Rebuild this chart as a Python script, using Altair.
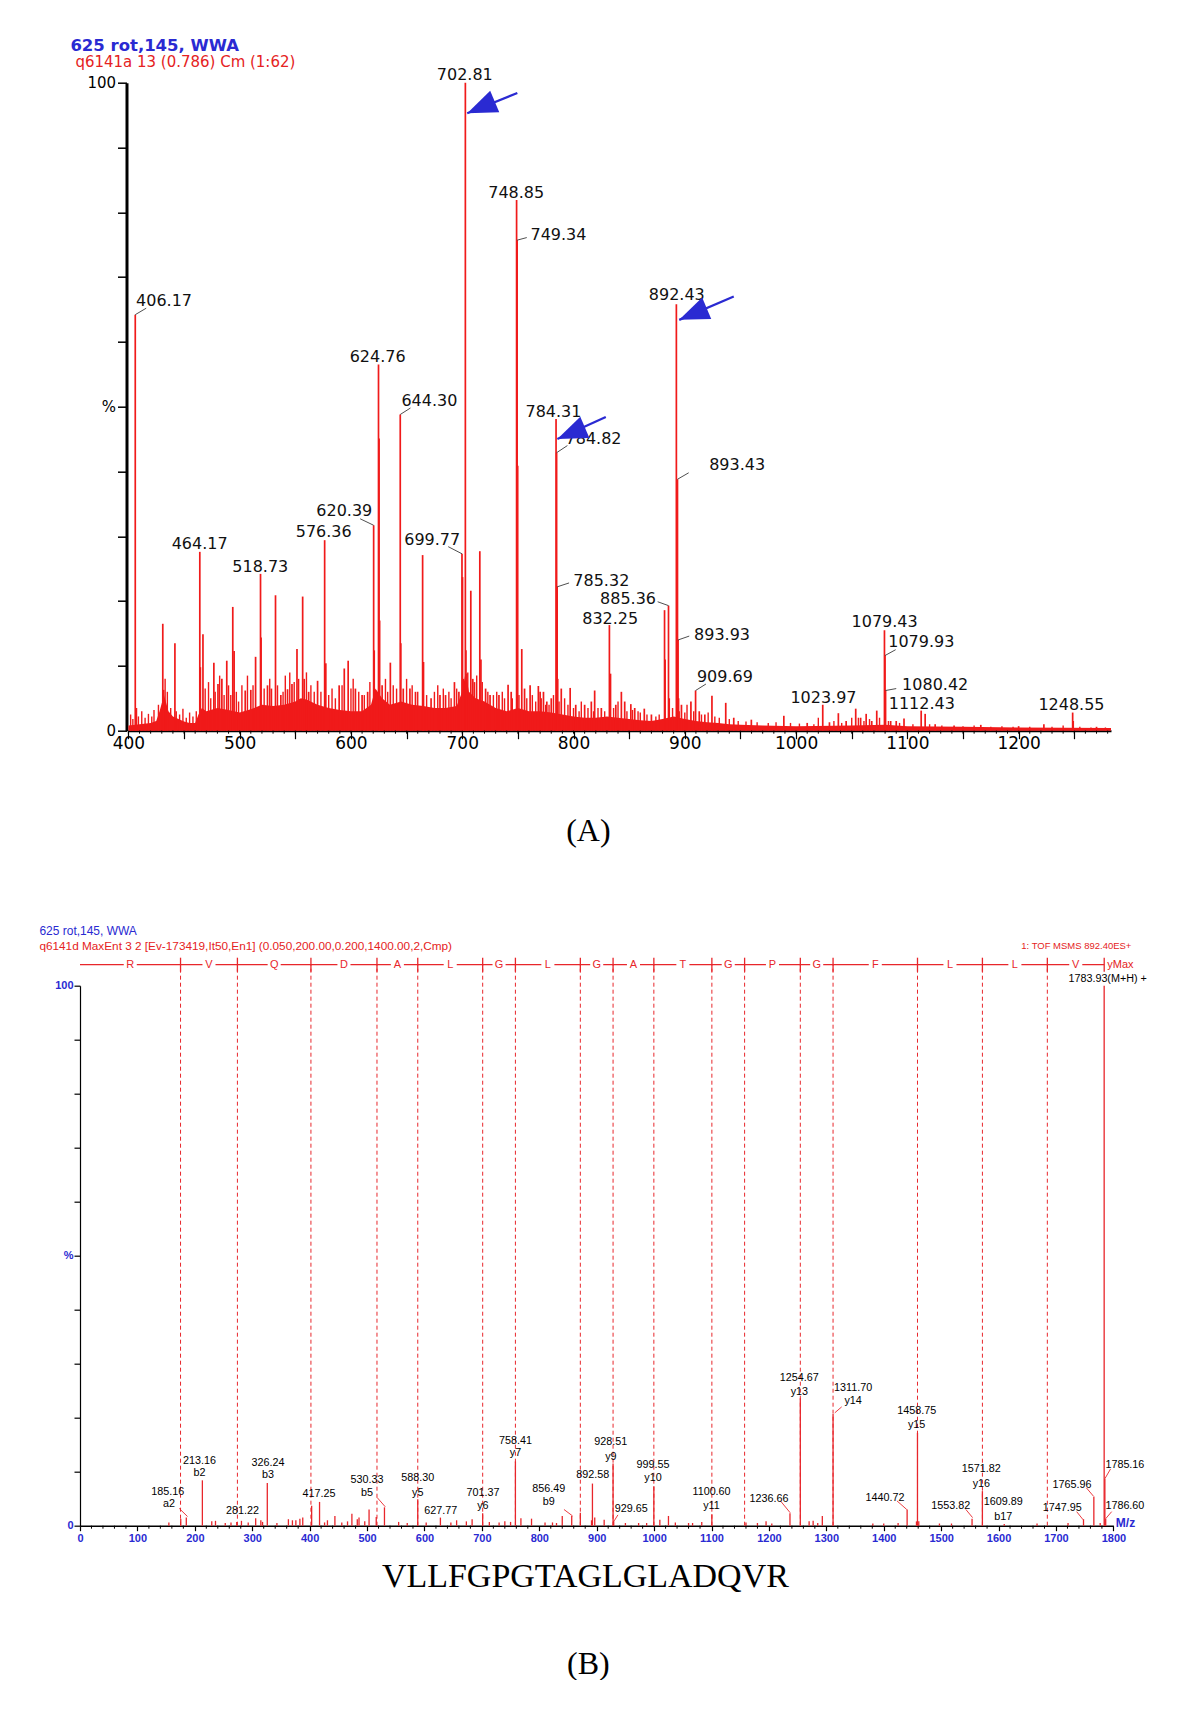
import altair as alt
import pandas as pd

# ======================= PANEL A : survey spectrum =======================
a_mz = [406.17, 407.17, 430.9, 431.6, 441.8, 464.17, 464.67, 467.0, 476.8, 480.5, 484.0, 488.4,
        493.8, 495.0, 505.0, 510.0, 514.3, 518.73, 519.23, 525.0, 528.5, 532.2, 537.0, 543.0,
        547.0, 551.5, 556.6, 558.0, 562.0, 570.0, 576.36, 577.4, 589.4, 594.0, 597.5, 604.0,
        610.0, 615.0, 620.39, 620.9, 624.76, 625.26, 625.77, 628.0, 635.4, 644.30, 644.80, 647.0,
        653.0, 658.0, 664.4, 665.2, 672.0, 680.0, 685.0, 693.0, 697.0, 699.77, 700.27, 701.0,
        702.81, 703.31, 704.0, 707.7, 709.5, 711.0, 715.8, 716.8, 721.0, 725.0, 733.0, 741.2,
        744.0, 748.85, 749.34, 749.84, 753.5, 756.0, 761.0, 768.4, 770.0, 773.0, 776.0, 780.0,
        784.31, 784.82, 785.32, 785.8, 789.0, 797.0, 802.0, 810.0, 816.0, 819.0, 825.0, 832.25,
        833.25, 838.0, 843.0, 846.0, 851.5, 855.0, 863.6, 870.0, 881.8, 882.3, 885.36, 886.0,
        892.43, 893.43, 893.93, 894.4, 897.0, 905.5, 909.69, 913.0, 918.0, 924.4, 936.8, 944.0,
        959.8, 989.0, 1010.0, 1023.97, 1030.0, 1038.0, 1045.0, 1053.6, 1058.0, 1063.0, 1068.0,
        1072.5, 1079.43, 1079.93, 1080.42, 1085.0, 1090.0, 1097.0, 1112.43, 1116.0, 1125.0,
        1142.0, 1166.0, 1200.0, 1222.7, 1248.55, 1249.05, 1270.0]
a_int = [64.2, 3.5, 16.5, 6.3, 13.5, 27.6, 9.8, 14.9, 10.5, 7.2, 8.0, 10.8,
         19.1, 12.3, 6.2, 6.3, 11.4, 24.2, 14.4, 7.0, 6.5, 20.9, 5.5, 6.4,
         7.2, 12.6, 20.7, 8.0, 6.0, 7.7, 29.4, 10.4, 7.0, 9.6, 10.8, 6.5,
         5.5, 6.0, 31.7, 12.4, 56.5, 45.1, 17.0, 7.0, 10.5, 48.8, 13.5, 6.5,
         6.5, 6.0, 27.1, 10.6, 5.0, 5.5, 5.5, 7.5, 6.0, 27.3, 23.7, 8.0,
         100.0, 12.4, 8.8, 21.6, 8.0, 7.5, 27.7, 11.0, 6.5, 5.5, 5.5, 7.1,
         6.0, 81.9, 75.7, 40.9, 12.6, 6.5, 7.0, 6.9, 6.0, 6.0, 4.5, 5.0,
         48.1, 42.9, 22.2, 8.0, 6.5, 6.6, 4.0, 4.0, 4.5, 6.2, 3.5, 16.3,
         8.8, 4.0, 6.0, 4.5, 4.1, 3.5, 3.4, 2.5, 18.6, 11.0, 19.3, 5.0,
         65.8, 38.8, 14.0, 5.0, 4.0, 4.5, 6.2, 3.0, 2.5, 5.4, 4.3, 2.0,
         1.7, 2.3, 1.2, 4.0, 1.3, 2.7, 1.5, 3.4, 2.0, 2.6, 1.5,
         3.1, 15.5, 11.6, 6.2, 1.5, 1.5, 1.9, 3.1, 2.6, 1.0,
         0.8, 0.9, 0.7, 1.0, 2.8, 1.5, 0.6]

a_small_mz = [402, 404, 409, 412, 415, 418, 421, 423, 427, 433, 435, 438, 443, 446, 449, 452, 455,
              458, 461, 469, 472, 474, 478, 482, 486, 490, 492, 497, 499, 502, 507, 512, 522, 527,
              534, 539, 541, 545, 549, 553, 560, 564, 567, 573, 580, 583, 586, 592, 600, 602, 607,
              612, 617, 631, 633, 638, 641, 650, 655, 660, 668, 675, 678, 683, 688, 690, 695, 705,
              713, 718, 723, 728, 731, 736, 738, 745, 751, 758, 763, 766, 771, 775, 778, 782, 787,
              792, 795, 800, 805, 807, 813, 818, 822, 828, 836, 840, 848, 853, 858, 860, 866, 874,
              877, 889, 895, 900, 902, 908, 915, 921, 927, 931, 940, 948, 955, 965, 975, 982, 995,
              1003, 1016, 1020, 1034, 1041, 1050, 1056, 1061, 1066, 1075, 1083, 1093, 1105, 1120,
              1131, 1150, 1160, 1175, 1185, 1195, 1210, 1230, 1240, 1255, 1265, 1278]
a_small_int = [2.5, 1.8, 2.2, 3.0, 2.0, 2.6, 2.2, 3.2, 4.0, 8.0, 6.0, 3.5, 3.0, 2.5, 3.4, 2.0, 2.8,
               2.2, 3.0, 6.5, 7.5, 5.0, 6.0, 8.5, 5.5, 7.0, 5.5, 6.0, 4.5, 7.0, 8.5, 7.0, 6.5, 8.0,
               7.0, 6.0, 8.5, 9.0, 7.5, 8.0, 9.0, 7.0, 6.0, 6.0, 5.5, 6.5, 5.0, 7.0, 6.5, 8.0, 6.0,
               5.5, 7.5, 8.0, 6.0, 7.0, 6.5, 8.0, 7.0, 6.0, 5.5, 6.0, 7.0, 6.5, 6.0, 5.0, 6.5, 9.0,
               8.5, 7.5, 6.0, 5.5, 6.0, 6.0, 5.0, 5.0, 5.5, 5.0, 5.5, 4.5, 5.0, 4.0, 4.0, 5.5, 4.5,
               5.0, 4.0, 3.5, 3.0, 4.5, 3.5, 3.0, 3.5, 3.0, 3.5, 4.5, 3.0, 3.2, 3.0, 2.8, 2.5, 2.2,
               2.5, 3.5, 3.0, 2.8, 4.0, 3.0, 2.5, 2.8, 2.2, 2.0, 1.8, 1.5, 1.4, 1.3, 1.2, 1.3, 1.2,
               1.1, 1.0, 2.0, 1.5, 1.2, 2.0, 2.0, 1.5, 1.8, 2.0, 1.5, 1.2, 1.0, 1.0,
               0.8, 0.7, 0.8, 0.6, 0.7, 0.6, 0.6, 0.6, 0.8, 0.6, 0.5, 0.5]

a_env_mz = [400, 410, 420, 425, 428, 432, 436, 440, 445, 450, 455, 460, 463, 466, 470, 480, 490,
            500, 510, 520, 530, 540, 550, 555, 560, 570, 580, 590, 600, 610, 618, 622, 628, 635,
            645, 655, 665, 675, 685, 695, 700, 703, 706, 712, 720, 730, 740, 750, 760, 770, 780,
            790, 800, 810, 820, 830, 840, 850, 860, 870, 880, 890, 900, 910, 920, 930, 940, 950,
            970, 1000, 1050, 1080, 1100, 1150, 1200, 1283]
a_env_int = [0.8, 1.0, 1.2, 1.5, 3.0, 5.5, 3.0, 2.2, 1.8, 1.4, 1.2, 1.2, 2.5, 3.5, 3.0, 3.5, 3.2,
             2.8, 3.3, 4.0, 3.8, 4.0, 4.5, 5.0, 4.8, 4.0, 3.5, 3.2, 3.0, 3.0, 4.0, 6.5, 5.0, 4.0,
             4.5, 4.0, 3.8, 3.5, 3.5, 3.8, 6.0, 9.0, 6.0, 5.0, 4.5, 3.5, 3.0, 3.5, 3.0, 3.0, 2.8,
             2.5, 2.2, 2.0, 2.0, 2.2, 2.0, 1.8, 1.6, 1.5, 1.8, 2.2, 1.8, 1.5, 1.3, 1.2, 1.0, 0.9,
             0.8, 0.7, 0.8, 0.9, 0.7, 0.6, 0.5, 0.4]

a_label_text = ["702.81", "748.85", "749.34", "406.17", "624.76", "644.30", "784.31", "784.82",
                "892.43", "893.43", "620.39", "464.17", "576.36", "518.73", "699.77", "785.32",
                "885.36", "832.25", "893.93", "909.69", "1023.97", "1079.43", "1079.93", "1080.42",
                "1112.43", "1248.55"]
a_label_mz = [702.3, 748.5, 786.5, 432.0, 624.0, 670.5, 782.0, 818.0, 892.8, 947.0, 594.0, 464.0,
              575.5, 518.5, 673.0, 825.0, 849.0, 833.0, 933.5, 936.0, 1024.6, 1079.6, 1112.5,
              1125.0, 1113.0, 1247.5]
a_label_int = [101.2, 83.0, 76.5, 66.3, 57.6, 50.9, 49.2, 45.0, 67.2, 41.0, 33.9, 28.8, 30.7, 25.3,
               29.4, 23.1, 20.4, 17.3, 14.8, 8.3, 5.1, 16.7, 13.7, 7.1, 4.1, 4.0]

a_lead_mz1 = [406.17, 644.30, 749.34, 784.82, 893.43, 620.39, 699.77, 785.32, 885.36, 893.93, 909.69, 1079.93, 1080.42]
a_lead_int1 = [64.2, 48.8, 75.7, 42.9, 38.8, 31.7, 27.3, 22.2, 19.3, 14.0, 6.2, 11.6, 6.2]
a_lead_mz2 = [416.0, 653.5, 758.0, 794.5, 903.5, 608.3, 687.4, 796.0, 875.6, 904.0, 919.0, 1089.5, 1090.0]
a_lead_int2 = [65.2, 49.8, 76.1, 44.0, 39.8, 32.7, 28.4, 22.8, 19.9, 14.6, 7.2, 12.5, 6.5]

a_arrow_tip_mz = [704.5, 895.0, 785.5]
a_arrow_tip_int = [95.3, 63.4, 45.0]
a_arrow_tail_mz = [749.5, 944.0, 829.0]
a_arrow_tail_int = [98.4, 67.0, 48.4]

a_xticks = list(range(400, 1283, 50))
a_xminor = list(range(400, 1283, 10))

# ======================= PANEL B : MS/MS spectrum =======================
b_mz = [185.16, 213.16, 281.22, 326.24, 417.25, 530.33, 588.30, 627.77, 701.37, 758.41, 856.49,
        892.58, 928.51, 929.65, 999.55, 1100.60, 1236.66, 1254.67, 1311.70, 1440.72, 1458.75,
        1553.82, 1571.82, 1609.89, 1747.95, 1765.96, 1783.93, 1785.16, 1786.60,
        154.8, 175.5, 229.5, 236, 253, 263, 273, 293, 306, 315, 318, 343, 363, 370, 376, 383, 388,
        403.5, 426, 431, 444, 456, 466, 473.6, 483, 486, 496, 503.5, 516, 555, 570, 603, 646, 656,
        673, 683, 713, 730, 740, 750, 768, 786.5, 810, 823, 830, 840, 871.5, 891, 896.6, 913,
        950, 973, 987, 1010, 1025, 1037, 1060, 1067, 1083, 1160, 1180, 1195, 1205, 1270, 1277,
        1285, 1293, 1381, 1400, 1425, 1457, 1461, 1497, 1518, 1667, 1721, 1777]
b_int = [1.5, 8.4, 0.9, 7.9, 4.4, 3.4, 4.9, 1.5, 2.3, 11.9, 1.8,
         7.8, 11.5, 0.9, 7.3, 2.1, 2.3, 23.6, 20.7, 3.0, 17.2,
         1.3, 6.4, 0.3, 1.2, 5.4, 100.0, 8.7, 1.3,
         0.6, 1.3, 0.8, 0.9, 0.5, 0.6, 0.7, 0.6, 1.4, 1.0, 0.7, 0.5, 1.2, 1.0, 1.0, 1.3, 1.5,
         3.7, 0.6, 1.0, 1.8, 0.6, 0.8, 2.2, 1.2, 1.5, 0.8, 3.0, 1.6, 0.7, 0.5, 0.6, 0.6, 1.0,
         0.8, 1.2, 0.7, 0.6, 0.8, 0.7, 1.4, 1.3, 0.6, 0.6, 0.5, 1.8, 2.4, 1.0, 1.5, 1.1,
         0.5, 0.5, 0.5, 1.1, 1.8, 0.6, 0.5, 0.5, 0.7, 0.6, 0.5, 0.8, 0.4, 0.8, 0.9,
         0.5, 1.8, 0.4, 0.4, 0.5, 0.8, 0.8, 0.4, 0.4, 0.4, 0.5, 0.5]

b_label_text = ["185.16", "213.16", "281.22", "326.24", "417.25", "530.33", "588.30", "627.77",
                "701.37", "758.41", "856.49", "892.58", "928.51", "929.65", "999.55", "1100.60",
                "1236.66", "1254.67", "1311.70", "1458.75", "1440.72", "1553.82", "1571.82",
                "1609.89", "1747.95", "1765.96", "1785.16", "1786.60", "1783.93(M+H) +"]
b_label_mz = [152.8, 208, 283, 327.5, 416.3, 500, 588.4, 628.4, 701.8, 758.5, 816.5, 893.3, 924.6,
              960, 998, 1100, 1200, 1253, 1346.7, 1457.3, 1402, 1516.7, 1570, 1608, 1711, 1728,
              1820, 1820, 1790]
b_label_int = [6.3, 12.0, 2.7, 11.6, 5.8, 8.4, 8.8, 2.7, 6.1, 15.7, 6.8, 9.3, 15.5, 3.0, 11.2,
               6.3, 4.9, 27.4, 25.5, 21.3, 5.2, 3.7, 10.5, 4.3, 3.2, 7.6, 11.2, 3.7, 101.2]

b_ion_text = ["a2", "b2", "b3", "b5", "y5", "y6", "y7", "b9", "y9", "y10", "y11", "y13", "y14",
              "y15", "y16", "b17"]
b_ion_mz = [155, 208, 327.5, 500, 588.4, 701.8, 758.5, 816.5, 924.6, 998, 1100, 1253, 1346.7,
            1457.3, 1570, 1608]
b_ion_int = [4.1, 9.8, 9.3, 6.1, 6.1, 3.7, 13.4, 4.4, 12.8, 8.8, 3.7, 24.8, 23.0, 18.6, 7.8, 1.6]

b_lead_mz1 = [172.8, 517.7, 843, 937, 1220, 1326.7, 1423, 1543, 1736, 1753, 1795, 1797]
b_lead_int1 = [3.2, 5.2, 3.0, 2.0, 4.6, 22.0, 4.6, 3.0, 2.6, 7.0, 10.5, 2.6]
b_lead_mz2 = [187.3, 531.7, 858, 930.5, 1237, 1314.7, 1440, 1554.7, 1747.3, 1765, 1785.16, 1786.6]
b_lead_int2 = [1.7, 3.5, 1.8, 0.9, 2.4, 20.9, 3.0, 1.5, 1.1, 5.5, 8.7, 1.3]

# y-ion ladder (sequence read from C- to N-terminus)
seq_bounds = [175.12, 274.19, 402.25, 517.28, 588.32, 701.40, 758.42, 871.51, 928.53, 999.57,
              1100.62, 1157.64, 1254.69, 1311.71, 1458.78, 1571.86, 1684.94, 1784.00]
seq_residues = ["R", "V", "Q", "D", "A", "L", "G", "L", "G", "A", "T", "G", "P", "G", "F", "L", "L", "V"]

b_xticks = list(range(0, 1801, 100))
b_xminor = [v for v in range(0, 1801, 20) if v % 100 != 0]

# ======================= styling =======================
RED_A = "#f01a1a"
RED_B = "#e8262b"
BLUE = "#2a2ad2"
SANS = "DejaVu Sans"
NARROW = "Liberation Sans"
SERIF = "Liberation Serif"

W = 1033.4
HA = 648
HB = 540

ylab = "datum.value == 100 ? '100' : datum.value == 50 ? '%' : datum.value == 0 ? '0' : ''"

# ---------- Panel A ----------
xA = alt.Scale(domain=[400, 1283], range=[48.4, 1031], nice=False, zero=False)
yA = alt.Scale(domain=[0, 100], nice=False, zero=False)

axA_x = alt.Axis(values=a_xticks, format="d", labelExpr="datum.value % 100 == 0 ? datum.label : ''",
                 title=None, grid=False, domainColor="black", domainWidth=2, tickColor="black",
                 tickWidth=1.2, tickSize=8, labelFont=SANS, labelFontSize=17, labelColor="black",
                 labelPadding=-3, labelFlush=False, labelOverlap=False)
axA_y = alt.Axis(values=list(range(0, 101, 10)), labelExpr=ylab, title=None, grid=False,
                 domainColor="black", domainWidth=3, tickColor="black", tickWidth=1.5, tickSize=9,
                 labelFont=SANS, labelFontSize=15, labelColor="black", labelPadding=2,
                 labelFlush=False, offset=-46.5)

def XA(f):
    return alt.X(f, type="quantitative", scale=xA, axis=axA_x)

def YA(f):
    return alt.Y(f, type="quantitative", scale=yA, axis=axA_y)

df_env = pd.DataFrame({"mz": a_env_mz, "int": a_env_int})
df_a = pd.DataFrame({"mz": a_mz, "int": a_int})
df_a_small = pd.DataFrame({"mz": a_small_mz, "int": a_small_int})
df_a_lab = pd.DataFrame({"mz": a_label_mz, "int": a_label_int, "t": a_label_text})
df_a_lead = pd.DataFrame({"mz": a_lead_mz1, "int": a_lead_int1, "m2": a_lead_mz2, "i2": a_lead_int2})
df_arrow = pd.DataFrame({"mz": a_arrow_tail_mz, "int": a_arrow_tail_int,
                         "tm": a_arrow_tip_mz, "ti": a_arrow_tip_int})
df_a_minor = pd.DataFrame({"mz": a_xminor})

area_a = alt.Chart(df_env).mark_area(color=RED_A, opacity=1).encode(
    x=XA("mz"), y=YA("int"), y2=alt.datum(0))
small_a = alt.Chart(df_a_small).mark_rule(color=RED_A, strokeWidth=1.4).encode(
    x=XA("mz"), y=YA("int"), y2=alt.datum(0))
sticks_a = alt.Chart(df_a).mark_rule(color=RED_A, strokeWidth=1.7).encode(
    x=XA("mz"), y=YA("int"), y2=alt.datum(0))
minor_a = alt.Chart(df_a_minor).mark_rule(color="black", strokeWidth=1).encode(
    x=XA("mz"), y=alt.value(HA), y2=alt.value(HA + 3))
lead_a = alt.Chart(df_a_lead).mark_rule(color="#222222", strokeWidth=0.8).encode(
    x=XA("mz"), y=YA("int"), x2="m2:Q", y2="i2:Q")
lab_a = alt.Chart(df_a_lab).mark_text(font=SANS, fontSize=16, color="#111111",
                                      baseline="middle", align="center").encode(
    x=XA("mz"), y=YA("int"), text="t:N")
ARROW = "M 0 0 L 1.8 -0.7 L 1.8 0.7 Z"
shaft = alt.Chart(df_arrow).mark_rule(color=BLUE, strokeWidth=2.2).encode(
    x=XA("mz"), y=YA("int"), x2="tm:Q", y2="ti:Q")
head = alt.Chart(df_arrow).mark_point(shape=ARROW, filled=True, color=BLUE, opacity=1,
                                      size=1100, angle=337, strokeWidth=0).encode(
    x=alt.X("tm:Q", scale=xA, axis=axA_x), y=alt.Y("ti:Q", scale=yA, axis=axA_y))


def txt(t, x, y, size, color, align="left", font="Liberation Sans", weight="normal"):
    return alt.Chart(pd.DataFrame({"t": [t]})).mark_text(
        font=font, fontSize=size, color=color, align=align, baseline="middle",
        fontWeight=weight).encode(text="t:N", x=alt.value(x), y=alt.value(y))

hdrA1 = txt("625 rot,145, WWA", -9.6, -37, 16.5, BLUE, font=SANS, weight="bold")
hdrA2 = txt("q6141a 13 (0.786) Cm (1:62)", -4.6, -21, 15, "#e52222", font=SANS)
capA = txt("(A)", 508.4, 748, 32, "black", align="center", font=SERIF)

panelA = alt.layer(area_a, small_a, sticks_a, minor_a, lead_a, lab_a, shaft, head,
                   hdrA1, hdrA2, capA).properties(width=W, height=HA)

# ---------- Panel B ----------
xB = alt.Scale(domain=[0, 1800], nice=False, zero=False)
yB = alt.Scale(domain=[0, 100], nice=False, zero=False)

axB_x = alt.Axis(values=b_xticks, format="d", title=None, grid=False, domainColor="black",
                 domainWidth=1.5, tickColor="black", tickWidth=1.2, tickSize=5, labelFont=NARROW,
                 labelFontSize=11, labelFontWeight="bold", labelColor=BLUE, labelPadding=2,
                 labelFlush=False, labelOverlap=False)
axB_y = alt.Axis(values=list(range(0, 101, 10)), labelExpr=ylab, title=None, grid=False,
                 domainColor="black", domainWidth=1.2, tickColor="black", tickWidth=1.2, tickSize=6,
                 labelFont=NARROW, labelFontSize=11, labelFontWeight="bold", labelColor=BLUE,
                 labelPadding=1, labelFlush=False)

def XB(f):
    return alt.X(f, type="quantitative", scale=xB, axis=axB_x)

def YB(f):
    return alt.Y(f, type="quantitative", scale=yB, axis=axB_y)

df_b = pd.DataFrame({"mz": b_mz, "int": b_int})
df_b_lab = pd.DataFrame({"mz": b_label_mz, "int": b_label_int, "t": b_label_text})
df_b_ion = pd.DataFrame({"mz": b_ion_mz, "int": b_ion_int, "t": b_ion_text})
df_b_lead = pd.DataFrame({"mz": b_lead_mz1, "int": b_lead_int1, "m2": b_lead_mz2, "i2": b_lead_int2})
df_b_minor = pd.DataFrame({"mz": b_xminor})

seq_start = [0.0] + seq_bounds[:-1]
df_seq = pd.DataFrame({"start": seq_start, "end": seq_bounds, "res": seq_residues})
df_seq["mz"] = (df_seq["start"] + df_seq["end"]) / 2
df_ruler = pd.DataFrame({"mz": [seq_start[0]], "end": [seq_bounds[-1]]})
df_bounds = pd.DataFrame({"mz": seq_bounds})
df_dash = pd.DataFrame({"mz": seq_bounds[:-1]})

sticks_b = alt.Chart(df_b).mark_rule(color=RED_B, strokeWidth=1.3).encode(
    x=XB("mz"), y=YB("int"), y2=alt.datum(0))
minor_b = alt.Chart(df_b_minor).mark_rule(color="black", strokeWidth=1).encode(
    x=XB("mz"), y=alt.value(HB), y2=alt.value(HB + 3))
dash_b = alt.Chart(df_dash).mark_rule(color=RED_B, strokeWidth=1, strokeDash=[4, 3]).encode(
    x=XB("mz"), y=alt.value(HB), y2=alt.value(-21))
ruler = alt.Chart(df_ruler).mark_rule(color=RED_B, strokeWidth=1.3).encode(
    x=XB("mz"), x2="end:Q", y=alt.value(-21))
rticks = alt.Chart(df_bounds).mark_rule(color=RED_B, strokeWidth=1.3).encode(
    x=XB("mz"), y=alt.value(-28), y2=alt.value(-14))
rbox = alt.Chart(df_seq).mark_point(shape="square", filled=True, color="white", opacity=1,
                                    size=170, strokeWidth=0).encode(
    x=XB("mz"), y=alt.value(-21))
rletters = alt.Chart(df_seq).mark_text(font=NARROW, fontSize=11, color=RED_B,
                                       align="center", baseline="middle").encode(
    x=XB("mz"), y=alt.value(-21), text="res:N")
lead_b = alt.Chart(df_b_lead).mark_rule(color=RED_B, strokeWidth=0.9).encode(
    x=XB("mz"), y=YB("int"), x2="m2:Q", y2="i2:Q")
lab_b = alt.Chart(df_b_lab).mark_text(font=NARROW, fontSize=10.8, color="black",
                                      align="center", baseline="middle").encode(
    x=XB("mz"), y=YB("int"), text="t:N")
ion_b = alt.Chart(df_b_ion).mark_text(font=NARROW, fontSize=10.8, color="black",
                                      align="center", baseline="middle").encode(
    x=XB("mz"), y=YB("int"), text="t:N")

hdrB1 = txt("625 rot,145, WWA", -40.6, -55, 12, BLUE)
hdrB2 = txt("q6141d  MaxEnt 3  2 [Ev-173419,It50,En1] (0.050,200.00,0.200,1400.00,2,Cmp)",
            -40.6, -40, 11.8, "#e52222")
hdrB3 = txt("1: TOF MSMS 892.40ES+", 1051.4, -40, 9.5, "#e52222", align="right")
ymax = txt("yMax", 1040.4, -21, 11, "#e52222", align="center")
mzlab = txt("M/z", 1045.5, 537, 12, BLUE, align="center", weight="bold")
seqtxt = txt("VLLFGPGTAGLGLADQVR", 505.4, 591, 34, "black", align="center", font=SERIF)
capB = txt("(B)", 508.4, 678, 32, "black", align="center", font=SERIF)

panelB = alt.layer(sticks_b, minor_b, dash_b, ruler, rticks, rbox, rletters, lead_b, lab_b, ion_b,
                   hdrB1, hdrB2, hdrB3, ymax, mzlab, seqtxt, capB).properties(width=W, height=HB)

chart = alt.vconcat(panelA, panelB, spacing=255, bounds="flush").properties(
    padding={"left": 31, "top": 29.7, "right": 0, "bottom": 0}
).configure_view(stroke=None)

chart.save("out.html", embed_options={"renderer": "svg", "actions": False})
